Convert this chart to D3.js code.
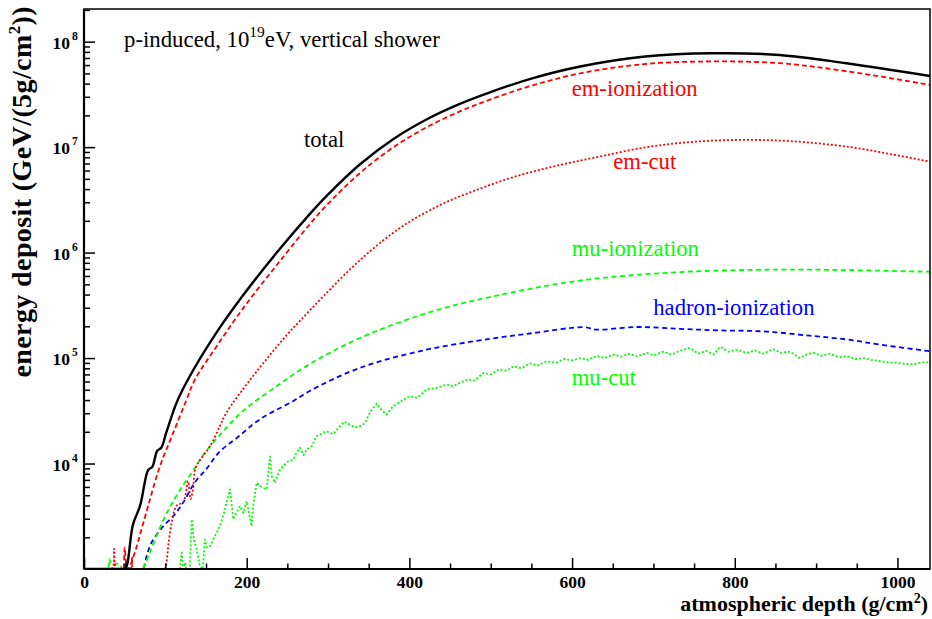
<!DOCTYPE html>
<html>
<head>
<meta charset="utf-8">
<script src="https://cdn.jsdelivr.net/npm/d3@7"></script>
<style>
  html, body { margin: 0; padding: 0; background: #fff; }
  svg { display: block; font-family: "Liberation Serif", "Times New Roman", Times, serif; }
</style>
</head>
<body>
<svg id="chart" width="932" height="619"></svg>
<script>
// Longitudinal energy deposit of a 10^19 eV proton shower, [depth g/cm^2, GeV per 5 g/cm^2].
// A zero means no deposit in that slice; such points sit on the lower frame edge.
const totalDeposit = [
  [0, 0], [45, 0], [50, 900], [53, 1.1e3], [60, 2.6e3], [69, 4.0e3], [79, 8.7e3], [84, 9.3e3],
  [90, 1.32e4], [95, 1.41e4], [101, 1.95e4], [114, 3.8e4], [128, 6.3e4], [161, 1.66e5],
  [196, 3.98e5], [237, 1.0e6], [278, 2.34e6], [298, 3.43e6], [339, 6.84e6], [380, 1.19e7],
  [421, 1.83e7], [462, 2.57e7], [499, 3.31e7], [550, 4.47e7], [610, 5.82e7], [690, 7.24e7],
  [773, 7.76e7], [855, 7.48e7], [937, 6.24e7], [1040, 4.73e7]
];

const emIonization = [
  [0, 0], [46, 0], [48, 0], [50, 1.6e3], [52, 1.1e3], [54, 0], [56.5, 1.07e3], [62.7, 1.45e3],
  [70.9, 2.4e3], [81.1, 4.57e3], [93.4, 9.44e3], [109.8, 1.96e4], [126.2, 4.05e4],
  [136.4, 6.25e4], [163, 1.29e5], [196, 2.99e5], [237, 7.62e5], [278, 1.875e6], [298, 2.79e6],
  [339, 5.66e6], [380, 9.93e6], [421, 1.54e7], [462, 2.18e7], [499, 2.82e7], [550, 3.82e7],
  [610, 5.01e7], [690, 6.14e7], [773, 6.49e7], [855, 6.25e7], [937, 5.25e7], [1040, 3.89e7]
];

const emCut = [
  [0, 0], [34, 0], [37, 1.55e3], [40, 0], [57, 0], [59, 1.3e3], [61, 0], [99, 0], [101, 1.1e3],
  [103.6, 1.66e3], [107.8, 2.75e3], [114, 4.0e3], [122, 4.3e3], [128, 6.8e3], [131, 4.6e3],
  [134, 5.7e3], [137, 9.0e3], [143, 1.09e4], [155, 1.46e4], [167, 2.26e4], [175, 3.03e4],
  [204, 6.19e4], [228.6, 1.07e5], [249.5, 1.66e5], [265.5, 2.25e5], [293.8, 3.82e5],
  [339.3, 8.49e5], [388.4, 1.71e6], [437.6, 2.82e6], [486.8, 4.04e6], [536, 5.43e6],
  [585, 6.76e6], [634, 8.14e6], [692, 1.0e7], [747, 1.12e7], [806, 1.17e7], [868, 1.14e7],
  [942, 1.0e7], [991, 8.6e6], [1040, 7.28e6]
];

const muIonization = [
  [0, 0], [29, 0], [31, 1.25e3], [34, 1.1e3], [40, 1.12e3], [44, 1.1e3], [47, 0], [50, 1.05e3],
  [55, 1.02e3], [60, 0], [72, 0], [75, 1.11e3], [81, 1.43e3], [89, 2.05e3], [102, 3.42e3],
  [118, 5.61e3], [136.4, 9.08e3], [146.3, 1.2e4], [167.2, 1.87e4], [195.5, 3.15e4],
  [237.2, 5.43e4], [277.8, 8.79e4], [339.3, 1.55e5], [421.6, 2.67e5], [499, 3.79e5],
  [609.7, 5.43e5], [732.6, 6.53e5], [855.6, 6.9e5], [938, 6.82e5], [1040, 6.58e5]
];

const hadronIonization = [
  [0, 0], [70, 0], [73, 1.02e3], [77, 1.33e3], [83, 1.78e3], [97.5, 2.55e3], [110, 3.18e3],
  [122, 4.27e3], [136, 6.58e3], [151, 9.0e3], [167, 1.3e4], [188, 1.75e4], [216, 2.62e4],
  [257, 3.9e4], [278, 4.9e4], [339, 8.07e4], [421, 1.2e5], [499, 1.52e5], [548, 1.71e5],
  [614, 1.96e5], [630, 1.86e5], [679, 1.97e5], [733, 1.89e5], [782, 1.83e5], [835, 1.79e5],
  [892, 1.63e5], [938, 1.5e5], [979, 1.34e5], [1040, 1.16e5]
];

const muCut = [
  [0, 0], [110, 0], [118, 0], [120, 1.43e3], [122, 1.0e3], [124, 1.15e3], [126, 0], [130, 0],
  [132.4, 2.96e3], [135, 1.9e3], [138.5, 1.54e3], [142, 1.1e3], [144.7, 0], [146, 0],
  [148.7, 1.91e3], [151, 1.6e3], [155, 1.65e3], [160, 2.0e3], [167, 2.55e3], [173, 3.6e3],
  [179.5, 5.69e3], [183.5, 2.96e3], [188, 3.5e3], [191.8, 3.95e3], [196, 3.4e3], [200, 4.4e3],
  [206, 2.55e3], [208, 4.0e3], [212.3, 6.58e3], [218, 6.0e3], [224.6, 5.69e3], [228.6, 1.17e4],
  [231, 7.5e3], [234.8, 6.58e3], [240, 8.5e3], [245, 9.44e3], [251, 1.05e4], [257.3, 1.09e4],
  [261, 1.25e4], [265.5, 1.41e4], [270, 1.2e4], [273.8, 1.36e4], [280, 1.46e4], [286, 1.82e4],
  [298, 2.03e4], [306, 1.9e4], [314.7, 2.26e4], [320, 2.5e4], [327, 2.34e4], [333, 2.2e4],
  [339.3, 2.26e4], [345, 2.4e4], [352, 3.1e4], [360, 3.71e4], [366, 3.2e4], [372, 2.92e4],
  [380, 3.5e4], [390, 3.9e4], [400, 4.35e4], [410, 4.2e4], [421, 5.04e4], [433, 5.2e4],
  [446, 5.61e4], [454, 5.4e4], [462, 5.82e4], [472, 6.3e4], [480, 6.1e4], [491, 7.24e4],
  [500, 7.0e4], [510, 7.8e4], [520, 7.6e4], [528, 8.36e4], [538, 8.0e4], [548, 8.9e4],
  [558, 8.5e4], [569, 9.33e4], [580, 9.0e4], [590, 9.8e4], [600, 9.5e4], [610, 1.0e5],
  [620, 9.6e4], [630, 1.05e5], [640, 1.0e5], [651, 1.08e5], [660, 1.03e5], [670, 1.1e5],
  [680, 1.04e5], [692, 1.12e5], [700, 1.06e5], [712, 1.15e5], [722, 1.08e5], [734, 1.18e5],
  [745, 1.25e5], [755, 1.1e5], [765, 1.17e5], [774, 1.08e5], [782, 1.28e5], [792, 1.15e5],
  [802, 1.2e5], [815, 1.12e5], [825, 1.18e5], [835, 1.1e5], [847, 1.22e5], [857, 1.12e5],
  [868, 1.15e5], [880, 1.0e5], [888, 1.08e5], [897, 1.12e5], [907, 1.05e5], [917, 1.1e5],
  [927, 1.02e5], [938, 1.04e5], [948, 9.8e4], [958, 1.0e5], [968, 9.6e4], [979, 9.33e4],
  [990, 9.1e4], [1000, 9.0e4], [1010, 8.8e4], [1019, 8.7e4], [1030, 9.1e4], [1040, 9.1e4]
];

// Axis ranges and tick values
const depthDomain = [0, 1040];
const depositDomain = [1e3, 2.04e8];
const depthMajorTicks = [0, 200, 400, 600, 800, 1000];
const depthMinorTicks = [50, 100, 150, 250, 300, 350, 450, 500, 550, 650, 700, 750, 850, 900, 950];
const depositDecades = [4, 5, 6, 7, 8];

// Curve labels, anchored in data coordinates [depth, deposit]
const curveLabels = [
  { text: "total",             at: [270.4, 1.01e7], color: "#000000" },
  { text: "em-ionization",     at: [599.5, 3.06e7], color: "#ff0000" },
  { text: "em-cut",            at: [650.6, 6.19e6], color: "#ff0000" },
  { text: "mu-ionization",     at: [599.5, 9.2e5],  color: "#00ff00" },
  { text: "hadron-ionization", at: [699.8, 2.54e5], color: "#0000ff" },
  { text: "mu-cut",            at: [599.5, 5.5e4],  color: "#00ff00" }
];

const svg = d3.select("#chart");
const frame = { left: 84, right: 930, top: 9, bottom: 569 };

const x = d3.scaleLinear().domain(depthDomain).range([frame.left, frame.right]);
const y = d3.scaleLog().domain(depositDomain).range([frame.bottom, frame.top]);

// Values at or below the axis minimum are drawn on the lower frame edge
const floorY = v => y(Math.max(v, depositDomain[0]));

svg.append("defs").append("clipPath").attr("id", "plot-clip")
  .append("rect")
  .attr("x", frame.left).attr("y", frame.top - 1)
  .attr("width", frame.right - frame.left).attr("height", frame.bottom - frame.top + 2);

const smooth = d3.curveCatmullRom.alpha(0.5);
const series = [
  { data: muCut,            color: "#00ff00", width: 1.8, dash: "2,2",   curve: d3.curveLinear },
  { data: hadronIonization, color: "#0000ff", width: 1.8, dash: "5,3.5", curve: smooth },
  { data: muIonization,     color: "#00ff00", width: 1.8, dash: "5,3.5", curve: smooth },
  { data: emCut,            color: "#ff0000", width: 1.8, dash: "2,2",   curve: smooth },
  { data: emIonization,     color: "#ff0000", width: 1.8, dash: "5,3",   curve: smooth },
  { data: totalDeposit,     color: "#000000", width: 2.4, dash: null,    curve: smooth }
];

const curves = svg.append("g").attr("clip-path", "url(#plot-clip)");
series.forEach(s => {
  const line = d3.line().x(d => x(d[0])).y(d => floorY(d[1])).curve(s.curve);
  curves.append("path")
    .datum(s.data)
    .attr("d", line)
    .attr("fill", "none")
    .attr("stroke", s.color)
    .attr("stroke-width", s.width)
    .attr("stroke-dasharray", s.dash)
    .attr("stroke-linejoin", "round");
});

// Frame
svg.append("rect")
  .attr("x", frame.left).attr("y", frame.top)
  .attr("width", frame.right - frame.left).attr("height", frame.bottom - frame.top)
  .attr("fill", "none").attr("stroke", "#000").attr("stroke-width", 1.5);

// X axis: ticks point into the plot
const xMajor = svg.append("g").attr("transform", `translate(0,${frame.bottom})`)
  .call(d3.axisBottom(x).tickValues(depthMajorTicks).tickSizeInner(-11).tickSizeOuter(0)
    .tickPadding(7).tickFormat(d3.format("d")));
xMajor.selectAll("text")
  .attr("font-family", "'Liberation Serif', serif")
  .attr("font-weight", "bold").attr("font-size", 17.5).attr("fill", "#000");
const xMinor = svg.append("g").attr("transform", `translate(0,${frame.bottom})`)
  .call(d3.axisBottom(x).tickValues(depthMinorTicks).tickSizeInner(-5.5).tickSizeOuter(0).tickFormat(""));
[xMajor, xMinor].forEach(g => {
  g.select(".domain").remove();
  g.selectAll("line").attr("stroke", "#000").attr("stroke-width", 1.5);
});

// Y axis: decades labelled as powers of ten
const yMinorTicks = [];
for (let n = 3; n <= 8; n++) {
  for (let k = 2; k <= 9; k++) {
    const v = k * Math.pow(10, n);
    if (v <= depositDomain[1]) yMinorTicks.push(v);
  }
}
const yMajor = svg.append("g").attr("transform", `translate(${frame.left},0)`)
  .call(d3.axisLeft(y).tickValues(depositDecades.map(n => Math.pow(10, n)))
    .tickSizeInner(-11).tickSizeOuter(0).tickFormat(""));
yMajor.selectAll(".tick").each(function (d) {
  const g = d3.select(this);
  const exponent = Math.round(Math.log10(d));
  g.append("text")
    .attr("x", -14).attr("y", 6.6)
    .attr("text-anchor", "end")
    .attr("font-family", "'Liberation Serif', serif")
    .attr("font-weight", "bold").attr("font-size", 17.5).attr("fill", "#000")
    .text("10");
  g.append("text")
    .attr("x", -12).attr("y", -2.4)
    .attr("text-anchor", "start")
    .attr("font-family", "'Liberation Serif', serif")
    .attr("font-weight", "bold").attr("font-size", 11.5).attr("fill", "#000")
    .text(exponent);
});
const yMinor = svg.append("g").attr("transform", `translate(${frame.left},0)`)
  .call(d3.axisLeft(y).tickValues(yMinorTicks).tickSizeInner(-6).tickSizeOuter(0).tickFormat(""));
[yMajor, yMinor].forEach(g => {
  g.select(".domain").remove();
  g.selectAll("line").attr("stroke", "#000").attr("stroke-width", 1.5);
});

// Axis lines (drawn heavier than the rest of the frame)
svg.append("line")
  .attr("x1", frame.left).attr("x2", frame.right).attr("y1", frame.bottom).attr("y2", frame.bottom)
  .attr("stroke", "#000").attr("stroke-width", 2.2);
svg.append("line")
  .attr("x1", frame.left).attr("x2", frame.left).attr("y1", frame.top).attr("y2", frame.bottom)
  .attr("stroke", "#000").attr("stroke-width", 2.2);

// Axis titles
const xTitle = svg.append("text")
  .attr("x", 928).attr("y", 611)
  .attr("text-anchor", "end")
  .attr("font-weight", "bold").attr("font-size", 22);
xTitle.append("tspan").text("atmospheric depth (g/cm");
xTitle.append("tspan").attr("dy", -8).attr("font-size", 14).text("2");
xTitle.append("tspan").attr("dy", 8).text(")");

const yTitle = svg.append("text")
  .attr("transform", "translate(31,6) rotate(-90)")
  .attr("text-anchor", "end")
  .attr("font-weight", "bold").attr("font-size", 28)
  .attr("letter-spacing", 0.4);
yTitle.append("tspan").text("energy deposit (GeV/(5g/cm");
yTitle.append("tspan").attr("dy", -11).attr("font-size", 17).text("2");
yTitle.append("tspan").attr("dy", 11).text("))");

// Plot caption
const caption = svg.append("text")
  .attr("x", 124).attr("y", 47)
  .attr("font-size", 22.8);
caption.append("tspan").text("p-induced, 10");
caption.append("tspan").attr("dy", -10).attr("font-size", 15.5).text("19");
caption.append("tspan").attr("dy", 10).text("eV, vertical shower");

// Curve labels
svg.append("g").selectAll("text")
  .data(curveLabels)
  .join("text")
  .attr("x", d => x(d.at[0]))
  .attr("y", d => y(d.at[1]))
  .attr("font-size", 22.7)
  .attr("fill", d => d.color)
  .text(d => d.text);
</script>
</body>
</html>
